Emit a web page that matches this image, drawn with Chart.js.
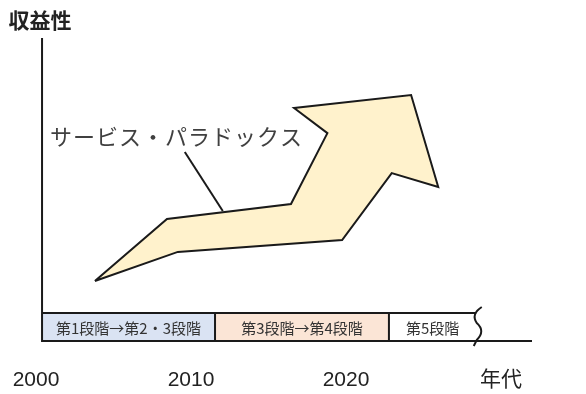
<!DOCTYPE html>
<html>
<head>
<meta charset="utf-8">
<script src="https://cdn.jsdelivr.net/npm/chart.js@4/dist/chart.umd.min.js"></script>
<style>
  html, body { margin: 0; padding: 0; background: #ffffff; }
  #wrap { width: 586px; height: 394px; }
</style>
</head>
<body>
<div id="wrap"><canvas id="c" width="586" height="394"></canvas></div>
<script>
// ---- data ----
// Arrow outline ("service paradox" curve): year vs. profitability index
const arrowYears  = [2003.8, 2008.45, 2016.45, 2018.8, 2016.65, 2024.2, 2025.95, 2022.95, 2019.75, 2009.15, 2003.8];
const arrowValues = [19.8,   40.3,    45.2,    68.6,   76.9,    81.2,   50.8,    55.4,    33.3,    29.4,    19.8];

// Leader line from the label to the arrow
const leaderYears  = [2009.6, 2012.05];
const leaderValues = [62.4, 42.9];

// Annotation
const calloutText  = 'サービス・パラドックス';
const calloutYear  = 2000.9;
const calloutValue = 67.3;

// Stage band along the time axis
const stageLabels = ['第1段階→第2・3段階', '第3段階→第4段階', '第5段階'];
const stageStarts = [2000.39, 2011.55, 2022.77];
const stageEnds   = [2011.55, 2022.77, 2028.4];
const stageColors = ['#dae3f3', '#fbe5d6', '#ffffff'];
const stageTop    = 9.24;

// Axes
const tickYears   = [2000, 2010, 2020, 2030];
const tickLabels  = ['2000', '2010', '2020', '年代'];
const axisYear    = 2000.39;   // where the vertical axis stands
const axisEndYear = 2032.0;    // end of the horizontal axis line
const breakYear   = 2028.5;    // wavy break symbol
const yAxisTitle  = '収益性';
const yMax        = 100;

const CJK = "'Noto Sans CJK JP', 'Noto Sans', sans-serif";

const decorPlugin = {
  id: 'decor',
  afterDraw(chart) {
    const ctx = chart.ctx;
    const xs = chart.scales.x, ys = chart.scales.y;
    const X = v => xs.getPixelForValue(v);
    const Y = v => ys.getPixelForValue(v);
    const y0 = Y(0), yT = Y(stageTop);
    ctx.save();
    // stage boxes
    for (let i = 0; i < stageLabels.length; i++) {
      const a = X(stageStarts[i]), b = X(stageEnds[i]);
      ctx.fillStyle = stageColors[i];
      ctx.fillRect(a, yT, b - a, y0 - yT);
    }
    ctx.strokeStyle = '#1a1a1a';
    ctx.lineWidth = 2;
    ctx.beginPath();
    ctx.moveTo(X(stageStarts[0]), yT);
    ctx.lineTo(X(stageEnds[stageEnds.length - 1]), yT);
    for (let i = 1; i < stageStarts.length; i++) {
      ctx.moveTo(X(stageStarts[i]), yT);
      ctx.lineTo(X(stageStarts[i]), y0);
    }
    ctx.stroke();
    // wavy break
    const wx = X(breakYear);
    ctx.beginPath();
    ctx.moveTo(wx + 4, yT - 6);
    ctx.quadraticCurveTo(wx - 7, yT + 1, wx - 1, yT + 10);
    ctx.quadraticCurveTo(wx + 8, yT + 18, wx - 1, y0 - 1);
    ctx.lineTo(wx - 4, y0 + 5);
    ctx.stroke();
    // axes
    ctx.beginPath();
    ctx.moveTo(X(axisYear), Y(yMax));
    ctx.lineTo(X(axisYear), y0);
    ctx.lineTo(X(axisEndYear), y0);
    ctx.stroke();
    // stage labels
    ctx.fillStyle = '#333333';
    ctx.font = "15px " + CJK;
    ctx.textAlign = 'center';
    ctx.textBaseline = 'middle';
    for (let i = 0; i < stageLabels.length; i++) {
      ctx.fillText(stageLabels[i], (X(stageStarts[i]) + X(stageEnds[i])) / 2, (y0 + yT) / 2 + 1);
    }
    // callout
    ctx.fillStyle = '#404040';
    ctx.font = "22px " + CJK;
    ctx.textAlign = 'left';
    ctx.letterSpacing = '1px';
    ctx.fillText(calloutText, X(calloutYear), Y(calloutValue));
    ctx.letterSpacing = '0px';
    // y-axis title
    ctx.fillStyle = '#222222';
    ctx.font = "bold 21px " + CJK;
    ctx.textAlign = 'center';
    ctx.fillText(yAxisTitle, X(axisYear) - 2, Y(yMax) - 18);
    ctx.restore();
  }
};

new Chart(document.getElementById('c'), {
  type: 'scatter',
  data: {
    datasets: [
      {
        type: 'line',
        data: arrowYears.map((x, i) => ({ x, y: arrowValues[i] })),
        borderColor: '#1a1a1a',
        borderWidth: 2,
        borderJoinStyle: 'miter',
        backgroundColor: '#fff2cc',
        fill: 'shape',
        tension: 0,
        pointRadius: 0,
        clip: false
      },
      {
        type: 'line',
        data: leaderYears.map((x, i) => ({ x, y: leaderValues[i] })),
        borderColor: '#1a1a1a',
        borderWidth: 2,
        fill: false,
        pointRadius: 0,
        clip: false
      }
    ]
  },
  options: {
    responsive: false,
    animation: false,
    events: [],
    layout: { padding: { top: 38, left: 0, right: 0, bottom: 0 } },
    plugins: { legend: { display: false }, tooltip: { enabled: false }, title: { display: false } },
    scales: {
      x: {
        type: 'linear',
        min: 2000 - 36 / 15.5,
        max: 2000 + 550 / 15.5,
        grid: { display: false, drawTicks: false },
        border: { display: false },
        afterBuildTicks: s => { s.ticks = tickYears.map(v => ({ value: v })); },
        afterFit: s => { s.height = 53; s.paddingLeft = 0; s.paddingRight = 0; },
        ticks: {
          autoSkip: false,
          maxRotation: 0,
          padding: 27,
          color: '#222222',
          font: { size: 21, weight: 'condensed', family: "'Liberation Sans Narrow', 'Liberation Sans', " + CJK },
          callback: v => { const i = tickYears.indexOf(v); return i >= 0 ? tickLabels[i] : ''; }
        }
      },
      y: {
        type: 'linear',
        display: false,
        min: 0,
        max: yMax
      }
    }
  },
  plugins: [decorPlugin]
});
</script>
</body>
</html>
